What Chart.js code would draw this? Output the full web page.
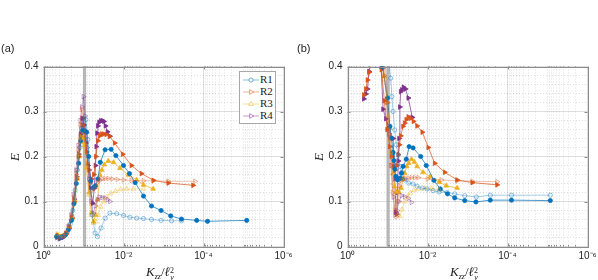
<!DOCTYPE html>
<html><head><meta charset="utf-8">
<script src="https://cdn.jsdelivr.net/npm/chart.js@4.4.1/dist/chart.umd.min.js"></script>
<style>
html,body{margin:0;padding:0;background:#fff;}
#wrap{position:relative;width:598px;height:280px;overflow:hidden;font-family:"Liberation Sans",Arial,sans-serif;}
canvas{position:absolute;top:0;}
.tag{position:absolute;font-size:11px;color:#222;line-height:12px;}
.ylab{position:absolute;width:20px;height:16px;line-height:16px;text-align:center;font-family:"Liberation Serif","DejaVu Serif",serif;font-style:italic;font-size:13px;color:#222;transform:rotate(-90deg);}
.xlab{position:absolute;width:100px;text-align:center;font-family:"Liberation Serif","DejaVu Serif",serif;font-size:13px;line-height:14px;color:#222;white-space:nowrap;}
.xlab sub{font-size:8px;vertical-align:-3px;}
.ss{display:inline-block;vertical-align:-4px;line-height:7px;font-size:8px;}
.ss span{display:block;}
#legend{position:absolute;left:239px;top:71px;width:35px;height:51px;border:1px solid #a8a8a8;background:#fff;}
.li{position:absolute;left:1px;height:12px;width:34px;}
.li svg{position:absolute;left:0;top:0;}
.li span{position:absolute;left:19px;top:-1px;font-family:"Liberation Serif","DejaVu Serif",serif;font-size:11px;line-height:13px;color:#222;}
</style></head>
<body>
<div id="wrap">
  <canvas id="cA" width="300" height="280" style="left:0"></canvas>
  <canvas id="cB" width="298" height="280" style="left:300px"></canvas>
  <div class="tag" style="left:1px;top:42px">(a)</div>
  <div class="tag" style="left:297px;top:42px">(b)</div>
  <div class="ylab" style="left:5px;top:149px">E</div>
  <div class="ylab" style="left:309px;top:149px">E</div>
  <div class="xlab" style="left:110px;top:265px"><i>K</i><sub><i>zz</i></sub>/<i>ℓ</i><span class="ss"><span>2</span><span><i>v</i></span></span></div>
  <div class="xlab" style="left:414px;top:265px"><i>K</i><sub><i>zz</i></sub>/<i>ℓ</i><span class="ss"><span>2</span><span><i>v</i></span></span></div>
  <div id="legend"></div>
</div>
<script>
// ---------- tick labels ----------
const xTickValues = [1, 1e-2, 1e-4, 1e-6];
const xTickLabels = ['10\u2070', '10\u207B\u00B2', '10\u207B\u2074', '10\u207B\u2076'];
const yTickValues = [0, 0.1, 0.2, 0.3, 0.4];
const yTickLabels = ['0', '0.1', '0.2', '0.3', '0.4'];
const seriesNames = ['R1', 'R2', 'R3', 'R4'];
// grey band (log10 of K_zz/l_v^2)
const bandLogA = [-0.985, -1.065];
const bandLogB = [-0.975, -1.055];

// ---------- panel (a) data: log10(K_zz/l_v^2) and E ----------
const aR1filledLogK = [-0.33,-0.40,-0.47,-0.55,-0.62,-0.70,-0.76,-0.82,-0.88,-0.93,-0.98,-1.03,-1.08,-1.13,-1.18,-1.24,-1.30,-1.36,-1.42,-1.54,-1.69,-1.81,-2.00,-2.15,-2.29,-2.50,-2.70,-2.94,-3.18,-3.45,-3.83,-4.10,-5.08];
const aR1filledE    = [0.022,0.020,0.022,0.026,0.037,0.058,0.095,0.140,0.185,0.235,0.258,0.257,0.254,0.200,0.145,0.130,0.135,0.150,0.187,0.215,0.216,0.202,0.180,0.162,0.142,0.112,0.090,0.080,0.068,0.061,0.058,0.056,0.058];
const aR1openLogK   = [-0.33,-0.38,-0.45,-0.53,-0.60,-0.67,-0.73,-0.79,-0.85,-0.91,-0.96,-1.01,-1.06,-1.11,-1.16,-1.22,-1.29,-1.35,-1.44,-1.54,-1.66,-1.83,-2.00,-2.16,-2.33,-2.50,-2.70,-2.94,-3.20,-3.45];
const aR1openE      = [0.022,0.018,0.020,0.025,0.033,0.050,0.080,0.125,0.170,0.220,0.262,0.285,0.282,0.238,0.150,0.070,0.030,0.022,0.041,0.063,0.074,0.073,0.069,0.065,0.063,0.062,0.060,0.058,0.057,0.057];
const aR2filledLogK = [-0.35,-0.42,-0.50,-0.57,-0.64,-0.71,-0.77,-0.83,-0.88,-0.93,-0.97,-1.02,-1.08,-1.14,-1.20,-1.26,-1.31,-1.36,-1.41,-1.46,-1.51,-1.57,-1.65,-1.78,-1.98,-2.20,-2.45,-2.75,-3.12,-3.74];
const aR2filledE    = [0.025,0.020,0.022,0.028,0.040,0.062,0.100,0.150,0.200,0.245,0.270,0.255,0.210,0.170,0.150,0.160,0.200,0.235,0.246,0.250,0.250,0.249,0.245,0.230,0.205,0.180,0.162,0.147,0.141,0.136];
const aR2openLogK   = [-0.34,-0.41,-0.48,-0.56,-0.63,-0.70,-0.76,-0.82,-0.87,-0.92,-0.955,-1.00,-1.05,-1.10,-1.16,-1.22,-1.29,-1.35,-1.41,-1.47,-1.54,-1.62,-1.72,-1.85,-2.00,-2.20,-2.50,-2.74,-3.12,-3.79];
const aR2openE      = [0.020,0.018,0.022,0.030,0.045,0.070,0.110,0.160,0.215,0.270,0.305,0.285,0.240,0.185,0.140,0.125,0.130,0.142,0.148,0.150,0.151,0.151,0.150,0.149,0.148,0.147,0.146,0.146,0.145,0.145];
const aR3filledLogK = [-0.36,-0.43,-0.50,-0.58,-0.65,-0.72,-0.78,-0.84,-0.89,-0.94,-0.98,-1.03,-1.08,-1.14,-1.20,-1.25,-1.30,-1.35,-1.41,-1.46,-1.52,-1.62,-1.75,-1.91,-2.12,-2.33,-2.50,-2.74];
const aR3filledE    = [0.025,0.022,0.024,0.030,0.042,0.065,0.100,0.150,0.200,0.232,0.240,0.225,0.175,0.120,0.075,0.055,0.070,0.104,0.159,0.170,0.182,0.190,0.187,0.174,0.159,0.148,0.137,0.128];
const aR3openLogK   = [-0.34,-0.41,-0.49,-0.57,-0.64,-0.71,-0.77,-0.83,-0.88,-0.93,-0.97,-1.02,-1.07,-1.13,-1.19,-1.25,-1.31,-1.37,-1.43,-1.50,-1.58,-1.68,-1.80,-1.93,-2.08,-2.25,-2.50];
const aR3openE      = [0.028,0.022,0.024,0.030,0.045,0.068,0.105,0.155,0.205,0.240,0.248,0.230,0.180,0.115,0.070,0.052,0.055,0.070,0.088,0.100,0.110,0.118,0.123,0.127,0.128,0.128,0.128];
const aR4filledLogK = [-0.35,-0.42,-0.49,-0.57,-0.64,-0.71,-0.77,-0.83,-0.88,-0.93,-0.97,-1.01,-1.06,-1.11,-1.17,-1.23,-1.27,-1.30,-1.32,-1.34,-1.36,-1.39,-1.43,-1.47,-1.51,-1.55,-1.60,-1.66];
const aR4filledE    = [0.022,0.018,0.020,0.028,0.042,0.065,0.105,0.155,0.205,0.250,0.285,0.270,0.230,0.180,0.130,0.096,0.130,0.180,0.222,0.252,0.268,0.276,0.279,0.280,0.278,0.268,0.255,0.245];
const aR4openLogK   = [-0.33,-0.40,-0.47,-0.55,-0.62,-0.69,-0.75,-0.81,-0.87,-0.92,-0.96,-1.00,-1.04,-1.09,-1.14,-1.19,-1.25,-1.30,-1.35,-1.40,-1.47,-1.54,-1.60,-1.66];
const aR4openE      = [0.020,0.017,0.020,0.028,0.045,0.070,0.115,0.170,0.225,0.280,0.310,0.333,0.290,0.220,0.150,0.100,0.074,0.090,0.104,0.110,0.109,0.108,0.104,0.100];

// ---------- panel (b) data ----------
const bR1filledLogK = [-0.70,-0.875,-1.00,-1.06,-1.10,-1.14,-1.16,-1.18,-1.21,-1.25,-1.29,-1.32,-1.35,-1.39,-1.47,-1.54,-1.64,-1.83,-1.97,-2.16,-2.32,-2.50,-2.68,-2.93,-3.21,-3.57,-4.10,-5.07];
const bR1filledE    = [0.50,0.399,0.330,0.267,0.241,0.209,0.191,0.172,0.156,0.148,0.150,0.152,0.163,0.178,0.194,0.222,0.219,0.200,0.180,0.147,0.128,0.117,0.108,0.102,0.099,0.103,0.103,0.102];
const bR1openLogK   = [-0.85,-1.08,-1.11,-1.14,-1.18,-1.22,-1.27,-1.31,-1.36,-1.43,-1.53,-1.64,-1.74,-1.87,-1.99,-2.14,-2.29,-2.49,-2.68,-2.93,-3.22,-3.57,-4.10,-5.07];
const bR1openE      = [0.55,0.374,0.333,0.300,0.259,0.226,0.204,0.178,0.165,0.148,0.141,0.139,0.134,0.130,0.128,0.124,0.121,0.120,0.117,0.113,0.110,0.114,0.114,0.114];
const bR2filledLogK = [-0.41,-0.46,-0.50,-0.54,-0.62,-0.70,-0.78,-0.85,-0.92,-0.99,-1.06,-1.10,-1.15,-1.19,-1.23,-1.27,-1.30,-1.33,-1.39,-1.43,-1.47,-1.52,-1.58,-1.65,-1.74,-1.87,-2.02,-2.18,-2.43,-2.74,-3.12,-3.74];
const bR2filledE    = [0.337,0.350,0.370,0.387,0.43,0.46,0.44,0.393,0.324,0.260,0.222,0.200,0.178,0.170,0.180,0.204,0.226,0.246,0.267,0.274,0.282,0.288,0.285,0.278,0.268,0.254,0.220,0.185,0.165,0.148,0.142,0.137];
const bR2openLogK   = [-0.80,-0.92,-0.98,-1.03,-1.08,-1.13,-1.18,-1.22,-1.26,-1.30,-1.34,-1.39,-1.45,-1.52,-1.60,-1.68,-1.77,-2.00,-2.35,-2.74,-3.12,-3.74];
const bR2openE      = [0.48,0.38,0.32,0.25,0.18,0.12,0.08,0.066,0.10,0.135,0.147,0.150,0.151,0.152,0.153,0.153,0.153,0.150,0.148,0.146,0.145,0.144];
const bR3filledLogK = [-0.75,-0.92,-1.00,-1.06,-1.10,-1.14,-1.18,-1.22,-1.29,-1.34,-1.39,-1.43,-1.48,-1.53,-1.60,-1.67,-1.74,-1.89,-2.07,-2.29,-2.47,-2.74];
const bR3filledE    = [0.50,0.378,0.320,0.263,0.210,0.162,0.133,0.122,0.120,0.130,0.150,0.163,0.178,0.185,0.194,0.188,0.178,0.165,0.155,0.143,0.135,0.130];
const bR3openLogK   = [-0.80,-0.95,-1.02,-1.08,-1.14,-1.20,-1.26,-1.31,-1.36,-1.43,-1.50,-1.57,-1.66,-1.77,-1.93,-2.10,-2.29];
const bR3openE      = [0.50,0.37,0.29,0.21,0.14,0.09,0.07,0.067,0.082,0.100,0.111,0.119,0.125,0.128,0.129,0.129,0.126];
const bR4filledLogK = [-0.41,-0.46,-0.50,-0.54,-0.60,-0.68,-0.76,-0.84,-0.89,-0.96,-1.04,-1.10,-1.14,-1.18,-1.21,-1.23,-1.25,-1.27,-1.29,-1.31,-1.33,-1.36,-1.40,-1.45,-1.52,-1.62];
const bR4filledE    = [0.328,0.339,0.350,0.389,0.44,0.48,0.46,0.40,0.305,0.284,0.262,0.241,0.240,0.150,0.076,0.072,0.12,0.19,0.24,0.31,0.344,0.348,0.354,0.350,0.330,0.287];
const bR4openLogK   = [-0.80,-0.95,-1.00,-1.05,-1.10,-1.15,-1.19,-1.24,-1.29,-1.35,-1.43,-1.52,-1.60];
const bR4openE      = [0.50,0.40,0.32,0.25,0.18,0.11,0.070,0.080,0.100,0.113,0.111,0.107,0.098];

// ---------- styling ----------
const RGB = {R1:'0,114,189', R2:'217,83,25', R3:'237,177,32', R4:'126,47,142'};
const SHAPE = {R1:['circle',0], R2:['triangle',90], R3:['triangle',0], R4:['triangle',90]};

function pts(logs, es){ return logs.map((l,i)=>({x: Math.pow(10,l), y: es[i]})); }
function ds(series, filled, logs, es){
  const c = RGB[series];
  const [shape, rot] = SHAPE[series];
  const line = filled ? `rgba(${c},0.9)` : `rgba(${c},0.45)`;
  const mk = filled ? `rgb(${c})` : `rgba(${c},0.55)`;
  return {
    label: series + (filled ? ' filled' : ' open'),
    data: pts(logs, es),
    borderColor: line, borderWidth: 0.8,
    pointStyle: shape, pointRotation: rot,
    pointRadius: shape === 'circle' ? 2.1 : 2.7,
    pointBackgroundColor: filled ? mk : 'rgba(255,255,255,0)',
    pointBorderColor: mk, pointBorderWidth: 0.8,
    tension: 0, clip: {left: 8, right: 8, top: 0, bottom: 8}
  };
}

const dsA = [
  ds('R1', false, aR1openLogK, aR1openE), ds('R2', false, aR2openLogK, aR2openE),
  ds('R3', false, aR3openLogK, aR3openE), ds('R4', false, aR4openLogK, aR4openE),
  ds('R1', true, aR1filledLogK, aR1filledE), ds('R2', true, aR2filledLogK, aR2filledE),
  ds('R3', true, aR3filledLogK, aR3filledE), ds('R4', true, aR4filledLogK, aR4filledE)
];
const dsB = [
  ds('R1', false, bR1openLogK, bR1openE), ds('R2', false, bR2openLogK, bR2openE),
  ds('R3', false, bR3openLogK, bR3openE), ds('R4', false, bR4openLogK, bR4openE),
  ds('R1', true, bR1filledLogK, bR1filledE), ds('R2', true, bR2filledLogK, bR2filledE),
  ds('R3', true, bR3filledLogK, bR3filledE), ds('R4', true, bR4filledLogK, bR4filledE)
];

// grid positions
const xGrid = [];
for (let d = -6; d <= 0; d++) for (let k = 1; k <= 9; k++) { if (d === 0 && k > 1) break; xGrid.push(k * Math.pow(10, d)); }
const yGrid = [];
for (let i = 0; i <= 20; i++) yGrid.push(Math.round(i * 2) / 100);

function isMajorX(v){ return xTickValues.some(t => Math.abs(Math.log10(v) - Math.log10(t)) < 1e-6); }
function isMajorY(v){ return yTickValues.some(t => Math.abs(v - t) < 1e-6); }

const framePlugin = {
  id: 'frame',
  beforeDatasetsDraw(chart, args, opts) {
    const {ctx, chartArea: a, scales: {x}} = chart;
    const p1 = x.getPixelForValue(Math.pow(10, opts.band[0]));
    const p2 = x.getPixelForValue(Math.pow(10, opts.band[1]));
    ctx.save();
    ctx.fillStyle = 'rgba(160,160,160,0.75)';
    ctx.fillRect(Math.min(p1,p2), a.top, Math.abs(p2-p1), a.bottom - a.top);
    ctx.restore();
  },
  afterDatasetsDraw(chart) {
    const {ctx, chartArea: a, scales: {x, y}} = chart;
    ctx.save();
    ctx.strokeStyle = '#8c8c8c'; ctx.lineWidth = 1;
    ctx.beginPath();
    xGrid.forEach(v => {
      const px = Math.round(x.getPixelForValue(v)) + 0.5;
      const len = isMajorX(v) ? 3 : 1.5;
      ctx.moveTo(px, a.bottom); ctx.lineTo(px, a.bottom - len);
      ctx.moveTo(px, a.top); ctx.lineTo(px, a.top + len);
    });
    yTickValues.forEach(v => {
      const py = Math.round(y.getPixelForValue(v)) + 0.5;
      ctx.moveTo(a.left, py); ctx.lineTo(a.left + 3, py);
      ctx.moveTo(a.right, py); ctx.lineTo(a.right - 3, py);
    });
    ctx.stroke();
    ctx.strokeRect(Math.round(a.left)+0.5, Math.round(a.top)+0.5, Math.round(a.right - a.left), Math.round(a.bottom - a.top));
    ctx.restore();
  }
};

function makeChart(id, datasets, g) {
  return new Chart(document.getElementById(id), {
    type: 'line',
    data: { datasets },
    options: {
      responsive: false, animation: false, devicePixelRatio: 1,
      layout: { padding: { left: 0, right: g.padRight, top: g.padTop, bottom: 0 } },
      plugins: { legend: { display: false }, tooltip: { enabled: false }, frame: { band: g.band } },
      scales: {
        x: {
          type: 'logarithmic', reverse: true, min: 1e-6, max: 1,
          afterBuildTicks: s => { s.ticks = xGrid.map(v => ({ value: v })); },
          afterFit: s => { s.height = g.xAxisHeight; },
          ticks: {
            autoSkip: false, maxRotation: 0, minRotation: 0, padding: 4, color: '#262626',
            font: { family: '"Liberation Sans", Arial, sans-serif', size: 10 },
            callback: v => { const i = xTickValues.findIndex(t => Math.abs(Math.log10(v) - Math.log10(t)) < 1e-6); return i >= 0 ? xTickLabels[i] : ''; }
          },
          grid: { drawTicks: false, lineWidth: 1, color: 'rgba(0,0,0,0.13)' },
          border: { display: false, dash: c => isMajorX(c.tick.value) ? [] : [1, 2] }
        },
        y: {
          min: 0, max: 0.4,
          afterBuildTicks: s => { s.ticks = yGrid.map(v => ({ value: v })); },
          afterFit: s => { s.width = g.yAxisWidth; },
          ticks: {
            autoSkip: false, padding: 5, color: '#262626',
            font: { family: '"Liberation Sans", Arial, sans-serif', size: 10 },
            callback: v => { const i = yTickValues.findIndex(t => Math.abs(v - t) < 1e-6); return i >= 0 ? yTickLabels[i] : ''; }
          },
          grid: { drawTicks: false, lineWidth: 1, color: 'rgba(0,0,0,0.13)' },
          border: { display: false, dash: c => isMajorY(c.tick.value) ? [] : [1, 2] }
        }
      }
    },
    plugins: [framePlugin]
  });
}

makeChart('cA', dsA, { padRight: 16.5, padTop: 66.5, yAxisWidth: 43.5, xAxisHeight: 33.5, band: bandLogA });
makeChart('cB', dsB, { padRight: 10.5, padTop: 66.5, yAxisWidth: 47.5, xAxisHeight: 33.5, band: bandLogB });

// legend (panel a) built from series names and styles
const leg = document.getElementById('legend');
seriesNames.forEach((s, i) => {
  const c = RGB[s];
  const [shape, rot] = SHAPE[s];
  const row = document.createElement('div');
  row.className = 'li';
  row.style.top = (1.5 + i * 12.2) + 'px';
  let mark;
  if (shape === 'circle') mark = `<circle cx="10" cy="6" r="2.1" fill="#fff" stroke="rgba(${c},0.6)" stroke-width="0.9"/>`;
  else {
    const r = 2.7;
    const pts = [0, 120, 240].map(a => { const t = (a + rot) * Math.PI / 180; return (10 + Math.sin(t) * r).toFixed(2) + ',' + (6 - Math.cos(t) * r).toFixed(2); }).join(' ');
    mark = `<polygon points="${pts}" fill="#fff" stroke="rgba(${c},0.6)" stroke-width="0.9"/>`;
  }
  row.innerHTML = `<svg width="19" height="12"><line x1="2" y1="6" x2="18" y2="6" stroke="rgba(${c},0.5)" stroke-width="0.9"/>${mark}</svg><span>${s}</span>`;
  leg.appendChild(row);
});
</script>
</body></html>
